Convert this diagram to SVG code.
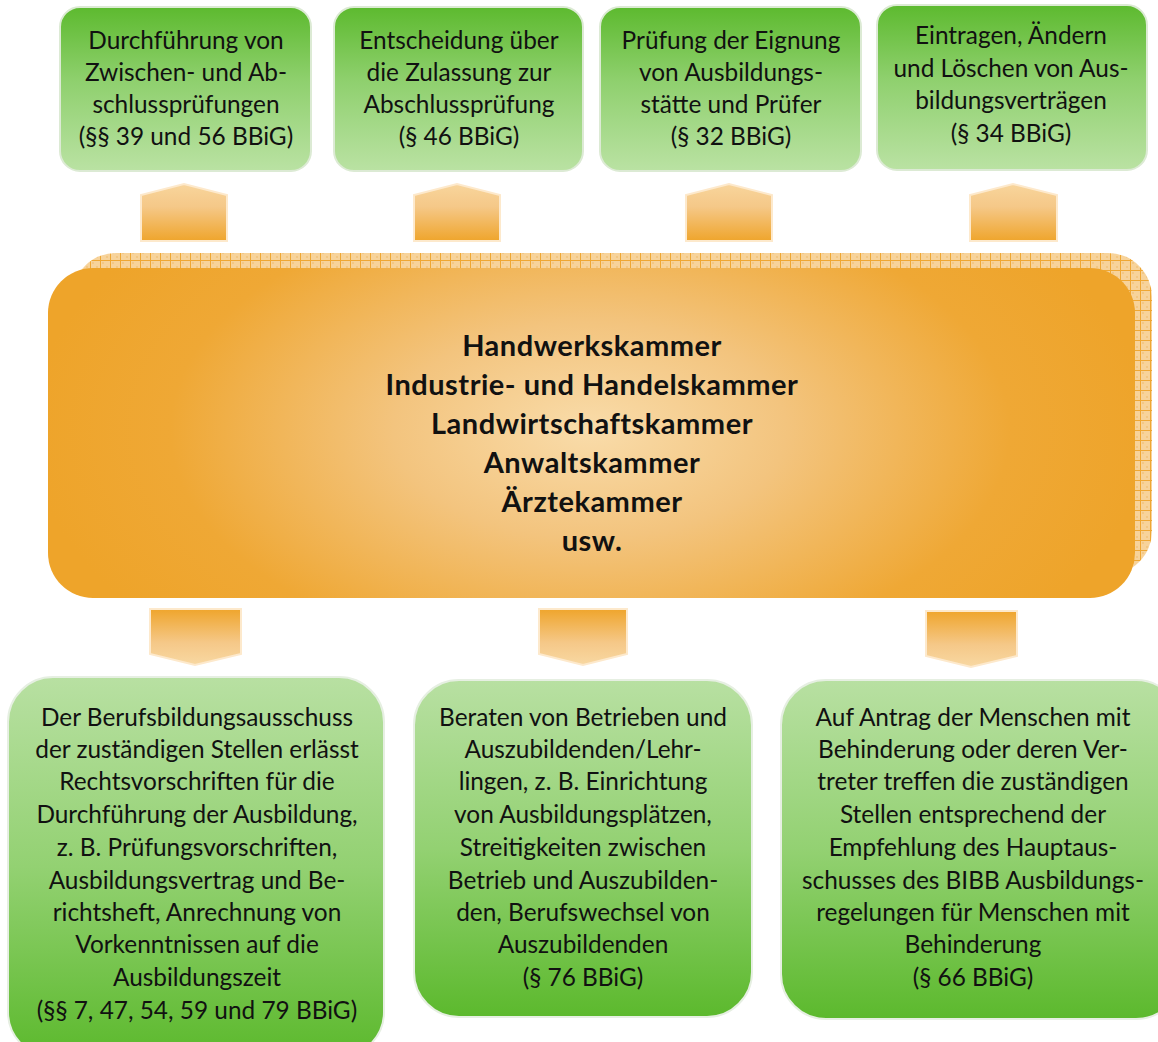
<svg xmlns="http://www.w3.org/2000/svg" width="1158" height="1042" viewBox="0 0 1158 1042">
<defs>
<linearGradient id="gTop" x1="0" y1="0" x2="0" y2="1">
<stop offset="0" stop-color="#5dba2f"/>
<stop offset="0.45" stop-color="#8fd06e"/>
<stop offset="1" stop-color="#bae2a3"/>
</linearGradient>
<linearGradient id="gBot" x1="0" y1="0" x2="0" y2="1">
<stop offset="0" stop-color="#b8e0a2"/>
<stop offset="0.5" stop-color="#93d172"/>
<stop offset="1" stop-color="#5cb92d"/>
</linearGradient>
<linearGradient id="gUp" x1="0" y1="0" x2="0" y2="1">
<stop offset="0" stop-color="#f8d59c"/>
<stop offset="0.4" stop-color="#f5c888"/>
<stop offset="1" stop-color="#efa52c"/>
</linearGradient>
<linearGradient id="gDown" x1="0" y1="0" x2="0" y2="1">
<stop offset="0" stop-color="#efa52c"/>
<stop offset="0.6" stop-color="#f5c888"/>
<stop offset="1" stop-color="#f8d8a2"/>
</linearGradient>
<radialGradient id="gCenter" cx="590" cy="430" r="560" gradientUnits="userSpaceOnUse" gradientTransform="translate(590 430) scale(1 0.55) translate(-590 -430)">
<stop offset="0" stop-color="#f9dcaa"/>
<stop offset="0.35" stop-color="#f3c47e"/>
<stop offset="0.75" stop-color="#efa835"/>
<stop offset="1" stop-color="#eea42a"/>
</radialGradient>
<pattern id="hatch" x="0" y="0" width="10" height="10" patternUnits="userSpaceOnUse">
<rect width="10" height="10" fill="#f7d39b"/>
<rect x="2" y="2" width="2" height="2" fill="#f2c27a" opacity="0.7"/>
<rect x="6" y="6" width="2" height="2" fill="#f2c27a" opacity="0.7"/>
<path d="M0 0.5H10M0.5 0V10" stroke="#efa733" stroke-width="1"/>
</pattern>
<style>
.t{font-family:Lato,"Liberation Sans",sans-serif;font-size:24.4px;fill:#111;text-anchor:middle}
.c{font-family:Lato,"Liberation Sans",sans-serif;font-size:29px;letter-spacing:0.5px;font-weight:bold;fill:#111;text-anchor:middle}
.tb{fill:url(#gTop);stroke:#dcead4;stroke-width:2}
.bb{fill:url(#gBot);stroke:#e6efe2;stroke-width:2}
.au{fill:url(#gUp);stroke:#fde9cc;stroke-width:2}
.ad{fill:url(#gDown);stroke:#fde9cc;stroke-width:2}
</style>
</defs>
<rect width="1158" height="1042" fill="#ffffff"/>

<g id="center">
<rect x="72" y="253" width="1080" height="322" rx="44" fill="url(#hatch)"/>
<rect x="48" y="268" width="1087" height="330" rx="45" fill="url(#gCenter)"/>
<text class="c" x="592" y="356">Handwerkskammer</text>
<text class="c" x="592" y="395">Industrie- und Handelskammer</text>
<text class="c" x="592" y="434">Landwirtschaftskammer</text>
<text class="c" x="592" y="473">Anwaltskammer</text>
<text class="c" x="592" y="512">Ärztekammer</text>
<text class="c" x="592" y="551">usw.</text>
</g>

<g id="connectors">
<path class="au" d="M141 241V195L184 184L227 195V241Z"/>
<path class="au" d="M414 241V195L457 184L500 195V241Z"/>
<path class="au" d="M686 241V195L729 184L772 195V241Z"/>
<path class="au" d="M970 241V195L1013 184L1057 195V241Z"/>
<path class="ad" d="M150 609V654L195 665L241 654V609Z"/>
<path class="ad" d="M539 609V654L583 665L627 654V609Z"/>
<path class="ad" d="M926 611V656L971 667L1017 656V611Z"/>
</g>

<g id="top1">
<rect class="tb" x="60" y="7" width="251" height="164" rx="20"/>
<text class="t" x="186" y="49">Durchführung von</text>
<text class="t" x="186" y="81">Zwischen- und Ab-</text>
<text class="t" x="186" y="113">schlussprüfungen</text>
<text class="t" x="186" y="145">(§§ 39 und 56 BBiG)</text>
</g>
<g id="top2">
<rect class="tb" x="334" y="7" width="249" height="164" rx="20"/>
<text class="t" x="459" y="49">Entscheidung über</text>
<text class="t" x="459" y="81">die Zulassung zur</text>
<text class="t" x="459" y="113">Abschlussprüfung</text>
<text class="t" x="459" y="145">(§ 46 BBiG)</text>
</g>
<g id="top3">
<rect class="tb" x="600" y="7" width="261" height="164" rx="20"/>
<text class="t" x="731" y="49">Prüfung der Eignung</text>
<text class="t" x="731" y="81">von Ausbildungs-</text>
<text class="t" x="731" y="113">stätte und Prüfer</text>
<text class="t" x="731" y="145">(§ 32 BBiG)</text>
</g>
<g id="top4">
<rect class="tb" x="877" y="5" width="270" height="165" rx="20"/>
<text class="t" x="1011" y="44">Eintragen, Ändern</text>
<text class="t" x="1011" y="77">und Löschen von Aus-</text>
<text class="t" x="1011" y="109">bildungsverträgen</text>
<text class="t" x="1011" y="142">(§ 34 BBiG)</text>
</g>

<g id="bottom1">
<rect class="bb" x="8" y="677" width="376" height="380" rx="45"/>
<text class="t" x="197" y="726">Der Berufsbildungsausschuss</text>
<text class="t" x="197" y="758">der zuständigen Stellen erlässt</text>
<text class="t" x="197" y="790">Rechtsvorschriften für die</text>
<text class="t" x="197" y="823">Durchführung der Ausbildung,</text>
<text class="t" x="197" y="856">z. B. Prüfungsvorschriften,</text>
<text class="t" x="197" y="889">Ausbildungsvertrag und Be-</text>
<text class="t" x="197" y="921">richtsheft, Anrechnung von</text>
<text class="t" x="197" y="953">Vorkenntnissen auf die</text>
<text class="t" x="197" y="986">Ausbildungszeit</text>
<text class="t" x="197" y="1019">(§§ 7, 47, 54, 59 und 79 BBiG)</text>
</g>
<g id="bottom2">
<rect class="bb" x="414" y="680" width="338" height="337" rx="45"/>
<text class="t" x="583" y="726">Beraten von Betrieben und</text>
<text class="t" x="583" y="758">Auszubildenden/Lehr-</text>
<text class="t" x="583" y="790">lingen, z. B. Einrichtung</text>
<text class="t" x="583" y="823">von Ausbildungsplätzen,</text>
<text class="t" x="583" y="856">Streitigkeiten zwischen</text>
<text class="t" x="583" y="889">Betrieb und Auszubilden-</text>
<text class="t" x="583" y="921">den, Berufswechsel von</text>
<text class="t" x="583" y="953">Auszubildenden</text>
<text class="t" x="583" y="986">(§ 76 BBiG)</text>
</g>
<g id="bottom3">
<rect class="bb" x="781" y="680" width="400" height="339" rx="45"/>
<text class="t" x="973" y="726">Auf Antrag der Menschen mit</text>
<text class="t" x="973" y="758">Behinderung oder deren Ver-</text>
<text class="t" x="973" y="790">treter treffen die zuständigen</text>
<text class="t" x="973" y="823">Stellen entsprechend der</text>
<text class="t" x="973" y="856">Empfehlung des Hauptaus-</text>
<text class="t" x="973" y="889">schusses des BIBB Ausbildungs-</text>
<text class="t" x="973" y="921">regelungen für Menschen mit</text>
<text class="t" x="973" y="953">Behinderung</text>
<text class="t" x="973" y="986">(§ 66 BBiG)</text>
</g>
</svg>
